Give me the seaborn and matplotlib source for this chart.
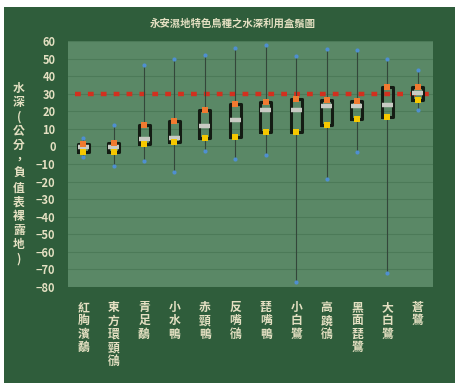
import numpy as np
import pandas as pd
import seaborn as sns
import matplotlib.pyplot as plt
from matplotlib.patches import Rectangle

# data (water depth, cm)
birds = ['紅胸濱鷸', '東方環頸鴴', '青足鷸', '小水鴨', '赤頸鴨', '反嘴鴴',
         '琵嘴鴨', '小白鷺', '高蹺鴴', '黑面琵鷺', '大白鷺', '蒼鷺']
mins = [-6, -11, -8.5, -14.5, -2.5, -7, -5, -77, -18.5, -3, -72, 21]
q1s = [-3, -3, 1.5, 2.5, 5, 5.5, 8, 8, 12, 15.5, 16.5, 26.5]
medians = [-0.5, -0.5, 4, 5, 11.5, 15, 20.5, 21, 23, 23, 23.5, 30.5]
q3s = [1.5, 2, 12, 14.5, 20.5, 24, 25.5, 27, 26.5, 26, 34, 34]
maxs = [5, 12, 46.5, 50, 52, 56, 58, 51.5, 55.5, 55, 49.5, 43.5]
ref_depth = 30
title = '永安濕地特色鳥種之水深利用盒鬚圖'
ylabel = '水深(公分，負值表裸露地)'

# five values per bird -> boxplot gives exactly these quartiles
rows = []
for i, b in enumerate(birds):
    for v in [mins[i], q1s[i], medians[i], q3s[i], maxs[i]]:
        rows.append({'bird': b, 'depth': v})
df = pd.DataFrame(rows)
stats = pd.DataFrame({'bird': birds, 'min': mins, 'q1': q1s, 'q3': q3s, 'max': maxs})

sns.set_style('white')
plt.rcParams['font.family'] = ['Noto Sans CJK TC', 'DejaVu Sans']
txt = '#e4e0c2'
dark = '#2f5d3b'

fig = plt.figure(figsize=(4.55, 3.83), dpi=100)
fig.patch.set_facecolor('white')
fig.add_artist(Rectangle((4 / 455, 0), 1, 1 - 7 / 383, transform=fig.transFigure,
                         facecolor=dark, edgecolor='none', zorder=0))
ax = fig.add_axes([68 / 455, 1 - 287 / 383, 365 / 455, 246 / 383])
ax.set_facecolor('#5a8866')

ax.set_ylim(-80, 60)
ax.set_yticks(range(-80, 61, 10))
ax.grid(axis='y', color='#4c7a58', linewidth=0.8)
ax.set_axisbelow(True)

sns.boxplot(data=df, x='bird', y='depth', order=birds, whis=np.inf, width=0.36,
            fill=False, color='#141c14', linewidth=2.2, showcaps=False, ax=ax,
            medianprops={'color': '#c9cbc4', 'linewidth': 3.2, 'solid_capstyle': 'butt'},
            whiskerprops={'color': '#34463a', 'linewidth': 0.8})

ax.axhline(ref_depth, xmin=0.02, xmax=0.99, color='#d2301e', linewidth=3.2,
           dashes=(1.3, 1.6), zorder=1)

sns.scatterplot(data=stats, x='bird', y='max', color='#4f8fd0', s=9, linewidth=0, ax=ax, zorder=5)
sns.scatterplot(data=stats, x='bird', y='min', color='#4f8fd0', s=9, linewidth=0, ax=ax, zorder=5)
sns.scatterplot(data=stats, x='bird', y='q3', color='#f07a30', marker='s', s=13, linewidth=0, ax=ax, zorder=6)
sns.scatterplot(data=stats, x='bird', y='q1', color='#f5c800', marker='s', s=13, linewidth=0, ax=ax, zorder=6)

ax.set_xlim(-0.5, len(birds) - 0.5)
ax.set_xticks(range(len(birds)))
ax.set_xticklabels(['\n'.join(b) for b in birds], va='top', linespacing=1.05)
ax.tick_params(axis='x', length=0, pad=10, labelsize=8.5, labelcolor=txt)
ax.tick_params(axis='y', length=0, pad=9, labelsize=8, labelcolor=txt)
for lab in ax.get_yticklabels() + ax.get_xticklabels():
    lab.set_fontweight('bold')
ax.set_xlabel('')
ax.set_ylabel('')
for s in ax.spines.values():
    s.set_visible(False)

fig.text(233 / 455, 1 - 24 / 383, title, ha='center', va='center', color=txt,
         fontsize=7.5, fontweight='bold')
fig.text(19 / 455, 1 - 82 / 383, '\n'.join(ylabel), ha='center', va='top', color=txt,
         fontsize=8.5, fontweight='bold', linespacing=1.12)

fig.savefig('out.png', dpi=100, facecolor=fig.get_facecolor())
